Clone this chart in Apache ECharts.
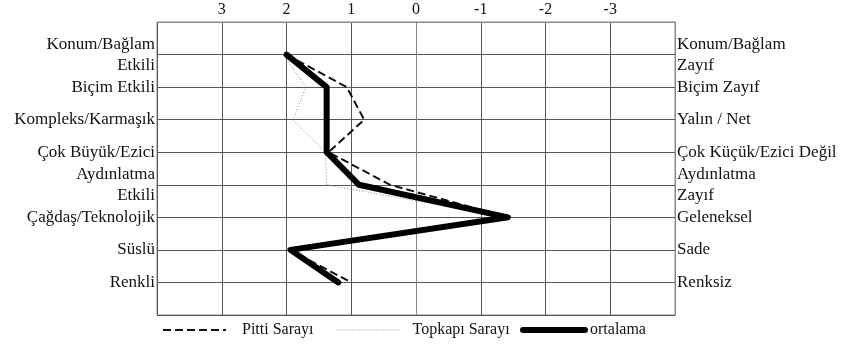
<!DOCTYPE html>
<html>
<head>
<meta charset="utf-8">
<script src="https://cdn.jsdelivr.net/npm/echarts@6/dist/echarts.min.js"></script>
<style>
  html, body { margin: 0; padding: 0; background: #fff; }
  #main { width: 841px; height: 352px; }
</style>
</head>
<body>
<div id="main"></div>
<script>
// row labels, top to bottom
var leftLabels = ['Konum/Bağlam\nEtkili', 'Biçim Etkili', 'Kompleks/Karmaşık', 'Çok Büyük/Ezici',
  'Aydınlatma\nEtkili', 'Çağdaş/Teknolojik', 'Süslü', 'Renkli'];
var rightLabels = ['Konum/Bağlam\nZayıf', 'Biçim Zayıf', 'Yalın / Net', 'Çok Küçük/Ezici Değil',
  'Aydınlatma\nZayıf', 'Geleneksel', 'Sade', 'Renksiz'];
var xTicks = [3, 2, 1, 0, -1, -2, -3];

// scores per row
var pitti = [2.0, 1.07, 0.8, 1.35, 0.4, -1.42, 1.95, 1.0];
var topkapi = [2.05, 1.7, 1.9, 1.4, 1.38, -1.42, 1.95, 1.2];
var ortalama = [2.0, 1.38, 1.38, 1.38, 0.88, -1.42, 1.94, 1.2];

var FONT = 'Liberation Serif';

function toPoints(arr) {
  return arr.map(function (v, i) { return [v, i + 1]; });
}

var hiddenDot = { color: 'transparent', borderColor: 'transparent', borderWidth: 0 };

var myChart = echarts.init(document.getElementById('main'));

var option = {
  animation: false,
  backgroundColor: '#fff',
  grid: { left: 157, right: 166, top: 22, bottom: 37, show: true, borderColor: '#888', borderWidth: 1 },
  xAxis: {
    type: 'value', position: 'top', inverse: true,
    min: -4, max: 4, interval: 1,
    axisLine: { show: true, lineStyle: { color: '#888' } },
    axisTick: { show: false },
    axisLabel: {
      fontFamily: FONT, fontSize: 16, color: '#111', margin: 4,
      formatter: function (v) { return xTicks.indexOf(v) >= 0 ? String(v) : ''; }
    },
    splitLine: { show: true, lineStyle: { color: '#555', width: 1 } }
  },
  yAxis: [
    {
      type: 'value', inverse: true, min: 0, max: 9, interval: 1, position: 'left',
      axisLine: { show: true, lineStyle: { color: '#888' } },
      axisTick: { show: false },
      axisLabel: {
        fontFamily: FONT, fontSize: 17, color: '#111', margin: 2, lineHeight: 21,
        padding: [4, 0, 0, 0],
        formatter: function (v) { return leftLabels[v - 1] || ''; }
      },
      splitLine: { show: true, lineStyle: { color: '#555', width: 1 } }
    },
    {
      type: 'value', inverse: true, min: 0, max: 9, interval: 1, position: 'right',
      axisLine: { show: true, lineStyle: { color: '#888' } },
      axisTick: { show: false },
      axisLabel: {
        fontFamily: FONT, fontSize: 17, color: '#111', margin: 2, lineHeight: 21, align: 'left',
        padding: [4, 0, 0, 0],
        formatter: function (v) { return rightLabels[v - 1] || ''; }
      },
      splitLine: { show: false }
    }
  ],
  legend: [
    {
      data: ['Pitti Sarayı'], left: 157, top: 317, itemWidth: 63, itemHeight: 14,
      lineStyle: { width: 2 }, itemStyle: hiddenDot,
      textStyle: { fontFamily: FONT, fontSize: 16, color: '#111', padding: [0, 0, 0, 11] }
    },
    {
      data: ['Topkapı Sarayı'], left: 332, top: 317, itemWidth: 63, itemHeight: 14,
      lineStyle: { width: 1, type: [1, 2] }, itemStyle: hiddenDot,
      textStyle: { fontFamily: FONT, fontSize: 16, color: '#111', padding: [0, 0, 0, 7] }
    },
    {
      data: ['ortalama'], left: 515, top: 317, itemWidth: 62, itemHeight: 14,
      lineStyle: { width: 6 }, itemStyle: hiddenDot,
      textStyle: { fontFamily: FONT, fontSize: 16, color: '#111' }
    }
  ],
  series: [
    {
      name: 'Topkapı Sarayı', type: 'line', symbol: 'none',
      data: toPoints(topkapi),
      lineStyle: { color: '#888', width: 1, type: [1, 2] },
      itemStyle: { color: '#888' }
    },
    {
      name: 'Pitti Sarayı', type: 'line', symbol: 'none',
      data: toPoints(pitti),
      lineStyle: { color: '#111', width: 2, type: [8, 4] },
      itemStyle: { color: '#111' }
    },
    {
      name: 'ortalama', type: 'line', symbol: 'none',
      data: toPoints(ortalama),
      lineStyle: { color: '#000', width: 6, cap: 'round', join: 'round' },
      itemStyle: { color: '#000' }
    }
  ]
};

myChart.setOption(option);
</script>
</body>
</html>
